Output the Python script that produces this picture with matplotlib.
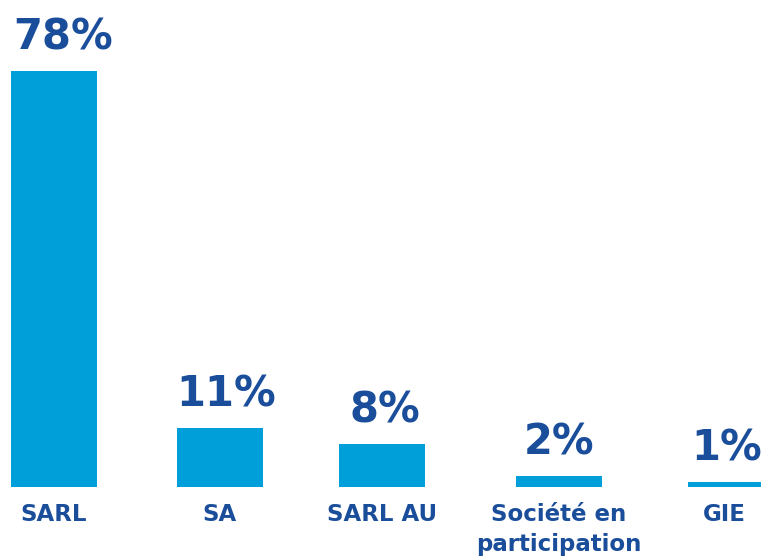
import matplotlib.pyplot as plt

categories = ["SARL", "SA", "SARL AU", "Société en\nparticipation", "GIE"]
shares = [78, 11, 8, 2, 1]

bar_color = "#009FDA"
text_color = "#1A4E9B"
# bar centres in pixel units, bars are not evenly spaced in the original
centres = [54, 220, 382, 559, 731]
# the last labels sit a little left of the clipped GIE bar
label_x = [54, 220, 382, 559, 724]
value_x = [63, 226, 385, 559, 727]

fig = plt.figure(figsize=(7.61, 5.57), dpi=100)
base = (557 - 487) / 557
ax = fig.add_axes([0, base, 1, 1 - base])
ax.set_xlim(0, 761)
ax.set_ylim(0, 487 / 5.33)
ax.axis("off")

ax.bar(centres, shares, width=86, color=bar_color)

for x, lx, v in zip(centres, value_x, shares):
    ax.annotate(f"{v}%", (lx, v), xytext=(0, 9), textcoords="offset points",
                ha="center", va="bottom", fontsize=30, fontweight="bold",
                family="DejaVu Sans", color=text_color)

for x, c in zip(label_x, categories):
    fig.text(x / 761, (557 - 503) / 557, c, ha="center", va="top",
             fontsize=16.5, fontweight="bold", family="DejaVu Sans", color=text_color,
             linespacing=1.4)

fig.savefig("out.png", dpi=100)
